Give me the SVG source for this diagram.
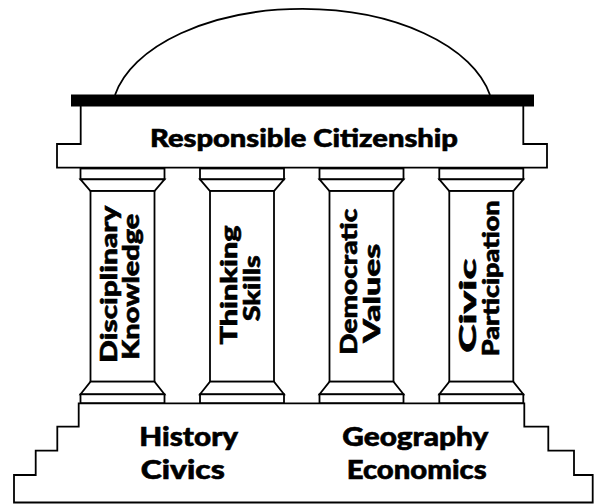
<svg xmlns="http://www.w3.org/2000/svg" xmlns:xlink="http://www.w3.org/1999/xlink" width="598" height="504" viewBox="0 0 598 504">
<style>
.ln{fill:#fff;stroke:#000;stroke-width:1.8;stroke-linejoin:miter}
.t{font-family:Lato,"Open Sans","Liberation Sans",sans-serif;font-weight:900;fill:#000;stroke:#000;stroke-width:0.6;text-anchor:middle}
.ct{font-size:22.5px}
.bt{font-size:26.5px}
</style>
<defs>
<g id="column">
<rect class="ln" x="0" y="168.5" width="84" height="10.8"/>
<polygon class="ln" points="0,179.3 84,179.3 74,191 10,191"/>
<rect class="ln" x="10" y="191" width="64" height="190.7"/>
<polygon class="ln" points="10,381.7 74,381.7 84,394.3 0,394.3"/>
<rect class="ln" x="0" y="394.3" width="84" height="9"/>
</g>
</defs>
<rect width="598" height="504" fill="#fff"/>
<g id="dome">
<path class="ln" d="M115,95 A191,106.3 0 0 1 490,95"/>
</g>
<g id="entablature">
<path class="ln" d="M80.7,100 V144 H57 V167.7 H547 V144 H523.3 V100 Z"/>
<rect x="71" y="94.5" width="463" height="12" fill="#000"/>
<text class="t" x="304" y="147" font-size="24" textLength="308" lengthAdjust="spacingAndGlyphs">Responsible Citizenship</text>
</g>
<g id="pillar-1">
<use xlink:href="#column" x="80.5"/>
<text class="t ct" transform="translate(116.7,284.2) rotate(-90)" textLength="157" lengthAdjust="spacingAndGlyphs">Disciplinary</text>
<text class="t ct" transform="translate(139,286.7) rotate(-90)" textLength="146" lengthAdjust="spacingAndGlyphs">Knowledge</text>
</g>
<g id="pillar-2">
<use xlink:href="#column" x="200"/>
<text class="t ct" transform="translate(236.7,285) rotate(-90)" textLength="119" lengthAdjust="spacingAndGlyphs">Thinking</text>
<text class="t ct" transform="translate(260,288.3) rotate(-90)" textLength="66" lengthAdjust="spacingAndGlyphs">Skills</text>
</g>
<g id="pillar-3">
<use xlink:href="#column" x="319.5"/>
<text class="t ct" transform="translate(356.7,281.7) rotate(-90)" textLength="146" lengthAdjust="spacingAndGlyphs">Democratic</text>
<text class="t ct" transform="translate(380,293.3) rotate(-90)" textLength="99" lengthAdjust="spacingAndGlyphs">Values</text>
</g>
<g id="pillar-4">
<use xlink:href="#column" x="439.3"/>
<text class="t ct" transform="translate(475.7,305.8) rotate(-90)" textLength="94" lengthAdjust="spacingAndGlyphs">Civic</text>
<text class="t ct" transform="translate(499,278.3) rotate(-90)" textLength="156" lengthAdjust="spacingAndGlyphs">Participation</text>
</g>
<g id="base">
<path class="ln" d="M78.7,403.3 V426.7 H57.3 V450.7 H35.7 V475 H14 V502.5 H592.7 V475 H574 V450.7 H548.3 V426.7 H524.3 V403.3 Z"/>
<text class="t bt" x="188.7" y="445.7" textLength="99" lengthAdjust="spacingAndGlyphs">History</text>
<text class="t bt" x="182.8" y="479" textLength="84" lengthAdjust="spacingAndGlyphs">Civics</text>
<text class="t bt" x="415.3" y="445.7" textLength="146" lengthAdjust="spacingAndGlyphs">Geography</text>
<text class="t bt" x="416.7" y="479" textLength="140" lengthAdjust="spacingAndGlyphs">Economics</text>
</g>
<g id="connectors"></g>
</svg>
